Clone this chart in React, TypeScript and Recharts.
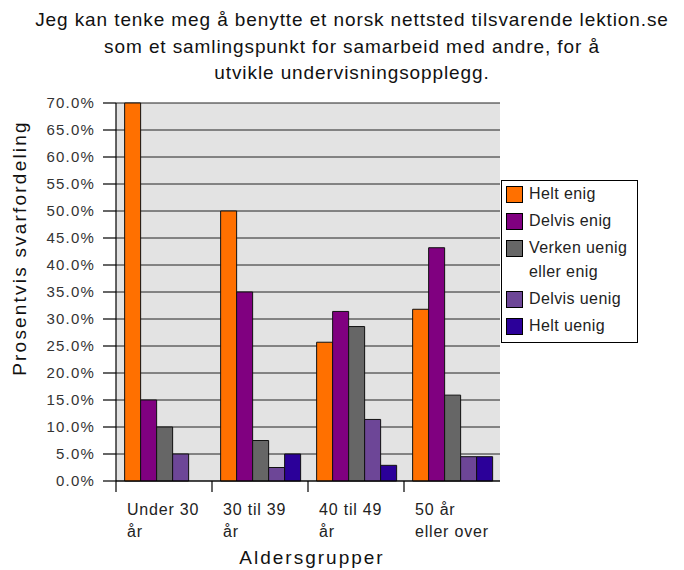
import { BarChart, Bar, XAxis, YAxis, CartesianGrid, Legend } from 'recharts'

const categories = ['Under 30\når', '30 til 39\når', '40 til 49\når', '50 år\neller over']
const heltEnig = [70, 50, 25.7, 31.8]
const delvisEnig = [15, 35, 31.4, 43.2]
const verkenUenig = [10, 7.5, 28.6, 15.9]
const delvisUenig = [5, 2.5, 11.4, 4.5]
const heltUenig = [0, 5, 2.9, 4.5]
const yTicks = [0, 5, 10, 15, 20, 25, 30, 35, 40, 45, 50, 55, 60, 65, 70]
const seriesNames = ['Helt enig', 'Delvis enig', 'Verken uenig\neller enig', 'Delvis uenig', 'Helt uenig']
const seriesKeys = ['heltEnig', 'delvisEnig', 'verkenUenig', 'delvisUenig', 'heltUenig']
const seriesColors = ['#ff7000', '#800080', '#666666', '#6d4697', '#2b0099']

const title = [
  'Jeg kan tenke meg å benytte et norsk nettsted tilsvarende lektion.se',
  'som et samlingspunkt for samarbeid med andre, for å',
  'utvikle undervisningsopplegg.',
]

const data = categories.map((c, i) => ({
  category: c,
  heltEnig: heltEnig[i],
  delvisEnig: delvisEnig[i],
  verkenUenig: verkenUenig[i],
  delvisUenig: delvisUenig[i],
  heltUenig: heltUenig[i],
}))

const FONT = '"Liberation Sans", Arial, sans-serif'
const W = 684
const H = 570
const LEFT = 116
const RIGHT = 184
const PLOT_W = W - LEFT - RIGHT

function CategoryTick(props: any) {
  const { x, y, payload } = props
  const half = PLOT_W / categories.length / 2
  const x0 = x - half
  const lines = String(payload.value).split('\n')
  return (
    <g>
      <line x1={x0} x2={x0} y1={y} y2={y + 11} stroke="#000" strokeWidth={1.2} />
      <text x={x0 + 11} y={y + 34} fill="#222" fontSize={16} fontFamily={FONT} style={{ letterSpacing: 0.8 }}>
        {lines.map((l, i) => (
          <tspan key={i} x={x0 + 11} dy={i === 0 ? 0 : 22}>
            {l}
          </tspan>
        ))}
      </text>
    </g>
  )
}

function LegendBox(props: any) {
  const items = [...(props.payload || [])].sort(
    (a: any, b: any) => seriesNames.indexOf(a.value) - seriesNames.indexOf(b.value),
  )
  return (
    <div
      style={{
        border: '1px solid #000',
        background: '#fff',
        padding: '1px 4px 3px 4px',
        width: 137,
        height: 163,
        boxSizing: 'border-box',
        fontFamily: FONT,
        fontSize: 16,
        color: '#222',
        letterSpacing: 0.4,
      }}
    >
      {items.map((item: any, i: number) => (
        <div key={i} style={{ display: 'flex', alignItems: 'flex-start', lineHeight: '24px', marginBottom: 3 }}>
          <span
            style={{
              width: 15,
              height: 15,
              background: item.color,
              border: '1px solid #000',
              marginTop: 4,
              marginRight: 6,
              flexShrink: 0,
            }}
          />
          <span style={{ whiteSpace: 'pre-line' }}>{item.value}</span>
        </div>
      ))}
    </div>
  )
}

export default function App() {
  return (
    <div style={{ position: 'relative', width: W, height: H, background: '#fff' }}>
      <style>{'body{margin:0}'}</style>
      <div
        style={{
          position: 'absolute',
          left: 20,
          top: 7,
          width: 664,
          textAlign: 'center',
          fontFamily: FONT,
          fontSize: 19,
          lineHeight: '26.5px',
          letterSpacing: 0.9,
          color: '#111',
        }}
      >
        {title.map((t, i) => (
          <div key={i}>{t}</div>
        ))}
      </div>
      <BarChart
        width={W}
        height={H}
        data={data}
        margin={{ top: 103, right: RIGHT, bottom: 0, left: 0 }}
        barCategoryGap="9%"
        barGap={0}
      >
        <CartesianGrid vertical={false} stroke="#222" fill="#e3e3e3" fillOpacity={1} />
        <XAxis
          dataKey="category"
          height={89}
          interval={0}
          tickLine={false}
          tickSize={0}
          tickMargin={0}
          axisLine={{ stroke: '#000', strokeWidth: 1.2 }}
          tick={<CategoryTick />}
        />
        <YAxis
          width={LEFT}
          domain={[0, 70]}
          ticks={yTicks}
          interval={0}
          tickSize={13}
          tickMargin={8}
          axisLine={{ stroke: '#000', strokeWidth: 1.2 }}
          tickLine={{ stroke: '#000', strokeWidth: 1.2 }}
          tickFormatter={(v: number) => `${v.toFixed(1)}%`}
          tick={{ fill: '#333', fontSize: 15, fontFamily: FONT, style: { letterSpacing: 1.2 } }}
        />
        <Legend
          layout="vertical"
          align="center"
          verticalAlign="middle"
          itemSorter={null as any}
          content={<LegendBox />}
          wrapperStyle={{ left: 501, top: 180, width: 137, height: 163 }}
        />
        {seriesKeys.map((k, i) => (
          <Bar
            key={k}
            dataKey={k}
            name={seriesNames[i]}
            fill={seriesColors[i]}
            stroke="#111"
            strokeWidth={1}
            isAnimationActive={false}
          />
        ))}
      </BarChart>
      <div
        style={{
          position: 'absolute',
          left: 20,
          top: 248,
          transform: 'translate(-50%, -50%) rotate(-90deg)',
          whiteSpace: 'nowrap',
          fontFamily: FONT,
          fontSize: 19,
          letterSpacing: 2.2,
          color: '#111',
        }}
      >
        Prosentvis svarfordeling
      </div>
      <div
        style={{
          position: 'absolute',
          left: 312,
          top: 558,
          transform: 'translate(-50%, -50%)',
          whiteSpace: 'nowrap',
          fontFamily: FONT,
          fontSize: 19,
          letterSpacing: 2,
          color: '#111',
        }}
      >
        Aldersgrupper
      </div>
    </div>
  )
}
